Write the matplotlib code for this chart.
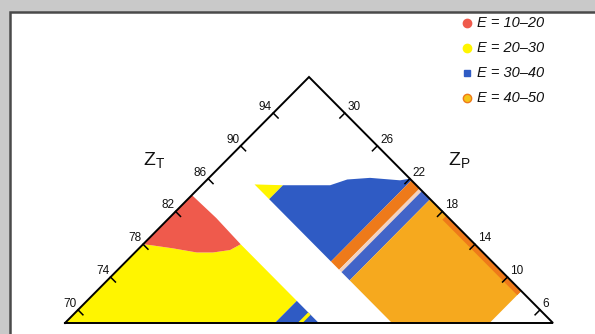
import matplotlib
matplotlib.use("Agg")
import matplotlib.pyplot as plt
from matplotlib.patches import Rectangle

plt.rcParams['font.family'] = ['Liberation Sans', 'DejaVu Sans']
plt.rcParams['mathtext.default'] = 'regular'

# ---- axis ranges / ticks (Z_T along left side, Z_P along right side) ----
ZT_MIN, ZT_MAX = 68.4, 98.4
ZP_MIN, ZP_MAX = 4.4, 34.4
zt_ticks = [70, 74, 78, 82, 86, 90, 94]
zp_ticks = [30, 26, 22, 18, 14, 10, 6]

# ---- colour regions, boundaries in (Z_T, Z_P) ----
red_zt = [78.0, 84.0, 84.1, 84.0, 83.0, 81.8, 80.8, 79.6, 78.4]
red_zp = [34.4, 34.4, 31.5, 28.4, 28.7, 29.6, 30.6, 32.3, 33.9]

yellow_zt = [68.4, 78.0, 78.4, 79.6, 80.8, 81.8, 83.0, 84.0, 84.0, 81.3]
yellow_zp = [34.4, 34.4, 33.9, 32.3, 30.6, 29.6, 28.7, 28.4, 21.5, 21.5]

blue_low_zt = [84.0, 81.3, 84.0]
blue_low_zp = [21.5, 21.5, 18.8]

ystripe_low_zt = [84.0, 82.7, 83.0, 84.0]
ystripe_low_zp = [20.1, 20.1, 19.8, 19.8]

ysmall_zt = [88.5, 90.2, 88.5]
ysmall_zp = [31.2, 29.4, 29.4]

blue_big_zt = [88.5, 90.2, 93.1, 93.9, 94.5, 96.0, 97.7, 98.4, 98.4, 88.5]
blue_big_zp = [29.4, 29.4, 26.5, 26.1, 25.8, 24.5, 22.5, 22.0, 21.8, 21.8]

oband_zt = [88.5, 98.4, 98.4, 88.5]
oband_zp = [21.8, 21.8, 20.8, 20.8]

pline_zt = [88.5, 98.4, 98.4, 88.5]
pline_zp = [20.8, 20.8, 20.5, 20.5]

bstripe_zt = [88.5, 98.4, 98.4, 88.5]
bstripe_zp = [20.5, 20.5, 19.5, 19.5]

orange_zt = [88.5, 98.4, 98.4, 94.5, 88.5]
orange_zp = [19.5, 19.5, 8.3, 8.3, 14.3]

oedge_zt = [97.9, 98.4, 98.4, 97.9]
oedge_zp = [17.5, 17.5, 8.3, 8.3]

legend_labels = ['E = 10–20', 'E = 20–30', 'E = 30–40', 'E = 40–50']

RED = '#ef5a4c'
YEL = '#fff500'
BLUE = '#2f5bc4'
BLUE2 = '#4264c8'
ORG = '#f6a91e'
ORG_D = '#ee7a1a'

SPAN = ZT_MAX - ZT_MIN


def to_uv(zt, zp):
    us, vs = [], []
    for t, p in zip(zt, zp):
        a = (t - ZT_MIN) / SPAN
        b = (ZP_MAX - p) / SPAN
        us.append((a + b) / 2)
        vs.append(a - b)
    return us, vs


fig = plt.figure(figsize=(5.95, 3.34), dpi=100, facecolor='#c9c9c9')
bg = fig.add_axes([0, 0, 1, 1])
bg.set_xlim(0, 595)
bg.set_ylim(334, 0)
bg.axis('off')
bg.add_patch(Rectangle((10, 12), 600, 330, facecolor='white',
                       edgecolor='#4a4a4a', lw=1.8))

ax = fig.add_axes([65 / 595, 11 / 334, 488 / 595, 246 / 334])
ax.set_xlim(0, 1)
ax.set_ylim(0, 1)
ax.axis('off')

regions = [
    (yellow_zt, yellow_zp, YEL),
    (red_zt, red_zp, RED),
    (blue_low_zt, blue_low_zp, BLUE),
    (ystripe_low_zt, ystripe_low_zp, YEL),
    (ysmall_zt, ysmall_zp, YEL),
    (blue_big_zt, blue_big_zp, BLUE),
    (oband_zt, oband_zp, ORG_D),
    (pline_zt, pline_zp, '#f3d2c0'),
    (bstripe_zt, bstripe_zp, BLUE2),
    (orange_zt, orange_zp, ORG),
    (oedge_zt, oedge_zp, ORG_D),
]
for zt, zp, c in regions:
    u, v = to_uv(zt, zp)
    ax.fill(u, v, color=c, lw=0)

# triangle outline
tu, tv = to_uv([ZT_MIN, ZT_MAX, ZT_MAX, ZT_MIN], [ZP_MAX, ZP_MAX, ZP_MIN, ZP_MAX])
ax.plot(tu, tv, color='black', lw=1.4, solid_joinstyle='miter', clip_on=False)

# ticks
for t in zt_ticks:
    u, v = to_uv([t, t], [ZP_MAX, ZP_MAX - 0.6])
    ax.plot(u, v, color='black', lw=1.1, clip_on=False)
    ax.annotate(str(t), (u[0], v[0]), xytext=(-1, 0), textcoords='offset points',
                ha='right', va='bottom', fontsize=8.5, color='#111111')
for p in zp_ticks:
    u, v = to_uv([ZT_MAX, ZT_MAX - 0.6], [p, p])
    ax.plot(u, v, color='black', lw=1.1, clip_on=False)
    ax.annotate(str(p), (u[0], v[0]), xytext=(2, 0), textcoords='offset points',
                ha='left', va='bottom', fontsize=8.5, color='#111111')

bg.text(154, 160, r'$Z_T$', fontsize=14, ha='center', va='center', color='#111111')
bg.text(459, 160, r'$Z_P$', fontsize=14, ha='center', va='center', color='#111111')

# legend
markers = [('o', RED, RED, 6), ('o', YEL, YEL, 6), ('s', BLUE, BLUE, 5), ('o', '#f5c518', ORG_D, 6)]
ys = [23, 48, 73, 98]
for (m, fc, ec, ms), lab, y in zip(markers, legend_labels, ys):
    bg.plot([467], [y], marker=m, ms=ms, mfc=fc, mec=ec, mew=1.0, ls='none')
    bg.text(477, y, lab, fontsize=10.5, style='italic', ha='left', va='center',
            color='#111111')

fig.savefig('out.png', dpi=100, facecolor=fig.get_facecolor())
